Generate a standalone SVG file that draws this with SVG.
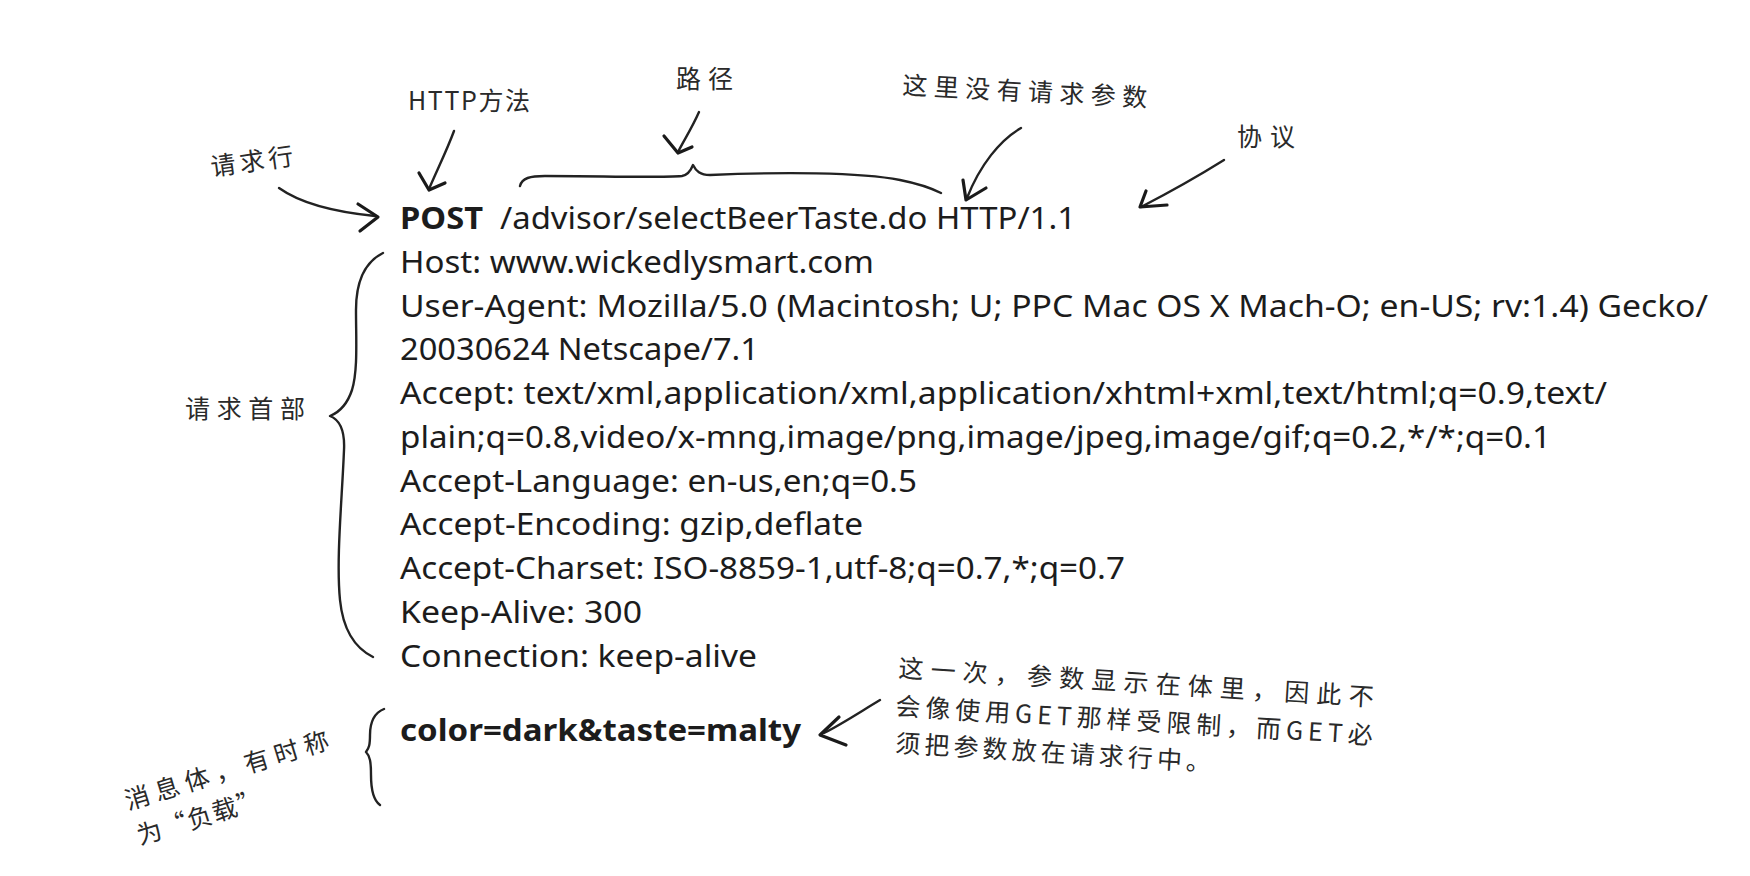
<svg xmlns="http://www.w3.org/2000/svg" width="1750" height="876" viewBox="0 0 1750 876">
<style>
.code{font-family:"Noto Sans","Liberation Sans",sans-serif;font-size:30px;fill:#1c1c1c}
.b{font-weight:bold}
.hand{font-family:"Noto Sans CJK SC","Noto Sans",sans-serif;font-size:25px;fill:#2a2a2a}
.ln{fill:none;stroke:#222;stroke-width:2.4;stroke-linecap:round;stroke-linejoin:round}
.hd{fill:none;stroke:#1a1a1a;stroke-width:3.2;stroke-linecap:round;stroke-linejoin:round}
</style>
<rect width="1750" height="876" fill="#ffffff"/>

<g id="request-line">
<text class="code b" x="400" y="229" textLength="83" lengthAdjust="spacingAndGlyphs">POST</text>
<text class="code" x="500" y="229" textLength="576" lengthAdjust="spacingAndGlyphs">/advisor/selectBeerTaste.do HTTP/1.1</text>
</g>

<g id="request-headers">
<text class="code" x="400" y="273" textLength="474" lengthAdjust="spacingAndGlyphs">Host: www.wickedlysmart.com</text>
<text class="code" x="400" y="317" textLength="1308" lengthAdjust="spacingAndGlyphs">User-Agent: Mozilla/5.0 (Macintosh; U; PPC Mac OS X Mach-O; en-US; rv:1.4) Gecko/</text>
<text class="code" x="400" y="360" textLength="359" lengthAdjust="spacingAndGlyphs">20030624 Netscape/7.1</text>
<text class="code" x="400" y="404" textLength="1207" lengthAdjust="spacingAndGlyphs">Accept: text/xml,application/xml,application/xhtml+xml,text/html;q=0.9,text/</text>
<text class="code" x="400" y="448" textLength="1151" lengthAdjust="spacingAndGlyphs">plain;q=0.8,video/x-mng,image/png,image/jpeg,image/gif;q=0.2,*/*;q=0.1</text>
<text class="code" x="400" y="492" textLength="517" lengthAdjust="spacingAndGlyphs">Accept-Language: en-us,en;q=0.5</text>
<text class="code" x="400" y="535" textLength="463" lengthAdjust="spacingAndGlyphs">Accept-Encoding: gzip,deflate</text>
<text class="code" x="400" y="579" textLength="725" lengthAdjust="spacingAndGlyphs">Accept-Charset: ISO-8859-1,utf-8;q=0.7,*;q=0.7</text>
<text class="code" x="400" y="623" textLength="242" lengthAdjust="spacingAndGlyphs">Keep-Alive: 300</text>
<text class="code" x="400" y="667" textLength="357" lengthAdjust="spacingAndGlyphs">Connection: keep-alive</text>
</g>

<g id="body">
<text class="code b" x="400" y="741" textLength="401" lengthAdjust="spacingAndGlyphs">color=dark&amp;taste=malty</text>
</g>

<g id="label-request-line">
<text class="hand" x="212" y="176" textLength="83" transform="rotate(-8 212 176)">请求行</text>
</g>
<g id="label-http-method">
<text class="hand" x="408" y="110" textLength="122">HTTP方法</text>
</g>
<g id="label-path">
<text class="hand" x="676" y="88" textLength="57">路径</text>
</g>
<g id="label-no-params">
<text class="hand" x="902" y="94" textLength="245" transform="rotate(3 902 94)">这里没有请求参数</text>
</g>
<g id="label-protocol">
<text class="hand" x="1237" y="146" textLength="58">协议</text>
</g>
<g id="label-headers">
<text class="hand" x="185" y="418" textLength="120">请求首部</text>
</g>
<g id="label-body">
<text class="hand" x="128" y="810" textLength="212" transform="rotate(-17 128 810)">消息体，有时称</text>
<text class="hand" x="140" y="845" textLength="130" transform="rotate(-17 140 845)">为“负载”</text>
</g>
<g id="label-body-note">
<text class="hand" x="898" y="677" textLength="476" transform="rotate(3.5 898 677)">这一次，参数显示在体里，因此不</text>
<text class="hand" x="895" y="715" textLength="478" transform="rotate(3.5 895 715)">会像使用GET那样受限制，而GET必</text>
<text class="hand" x="895" y="752" textLength="316" transform="rotate(3.5 895 752)">须把参数放在请求行中。</text>
</g>

<g id="connectors">
<path class="ln" d="M279,188 C300,203 335,212 375,216"/>
<path class="hd" d="M358,204 L378,217 L360,231"/>
<path class="ln" d="M454,131 C447,150 438,168 429,189"/>
<path class="hd" d="M419,173 L429,190 L445,183"/>
<path class="ln" d="M699,112 C692,128 684,140 678,152"/>
<path class="hd" d="M664,136 L678,153 L692,147"/>
<path class="ln" d="M520,186 C522,178 530,176 545,176 C600,176 660,178 682,176 C688,175 691,170 693,165 C696,171 700,175 710,175 C780,172 860,172 900,180 C920,184 935,190 941,193"/>
<path class="ln" d="M1021,128 C1000,140 980,165 967,198"/>
<path class="hd" d="M963,180 L966,200 L986,188"/>
<path class="ln" d="M1224,160 C1200,175 1170,192 1141,207"/>
<path class="hd" d="M1146,191 L1140,207 L1167,205"/>
<path class="ln" d="M383,253 C365,262 356,280 356,310 C356,340 358,370 352,390 C347,405 340,412 330,416 C340,420 345,430 344,450 C342,500 336,560 340,600 C343,630 355,648 373,657"/>
<path class="ln" d="M384,709 C374,713 370,722 370,735 C370,745 369,748 366,752 C370,756 371,762 371,775 C371,790 373,800 380,805"/>
<path class="ln" d="M880,700 C860,712 842,724 824,733"/>
<path class="hd" d="M839,717 L820,735 L846,745"/>
</g>
</svg>
